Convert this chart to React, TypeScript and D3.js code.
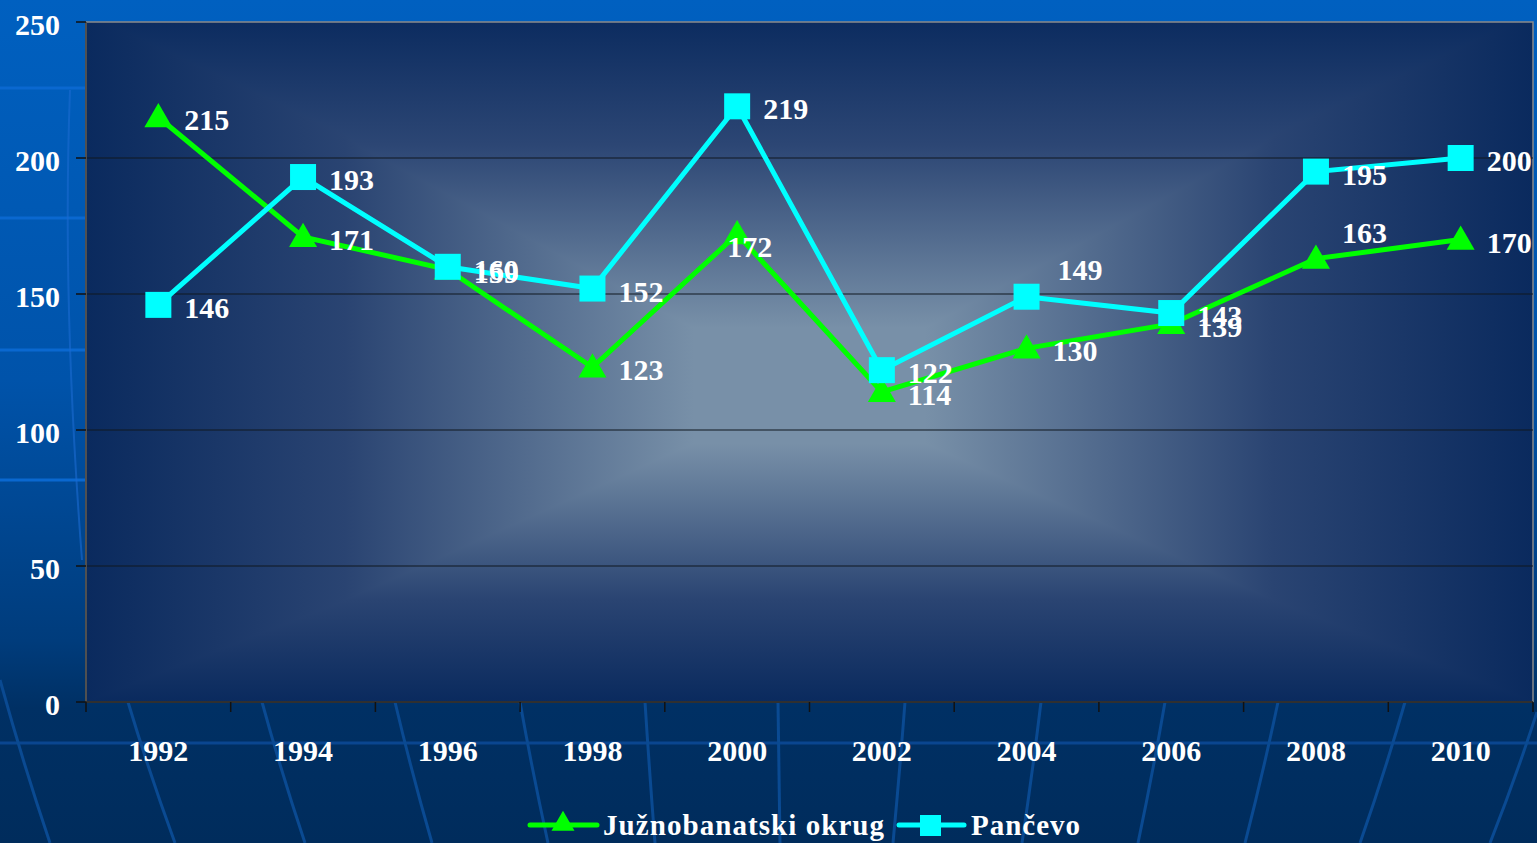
import React from 'react';
import * as d3 from 'd3';

const years = ['1992', '1994', '1996', '1998', '2000', '2002', '2004', '2006', '2008', '2010'];
const juzno = [215, 171, 159, 123, 172, 114, 130, 139, 163, 170];
const pancevo = [146, 193, 160, 152, 219, 122, 149, 143, 195, 200];
const yTicks = [0, 50, 100, 150, 200, 250];

const W = 1537;
const H = 843;
const M = { left: 86, right: 1533, top: 22, bottom: 702 };
const FONT = '"Liberation Serif", "Times New Roman", serif';

// label nudges where the original moved the value label away from the default spot
const nudgeJuzno: Record<number, [number, number]> = { 4: [-36, 10], 8: [0, -29] };
const nudgePancevo: Record<number, [number, number]> = { 6: [5, -30] };

// globe meridian strokes in the background (top x at plot bottom, bottom x at page bottom)
const meridians: [number, number, number][] = [
  [0, 680, 50], [128, 702, 175], [262, 702, 305], [395, 702, 432], [520, 702, 548],
  [645, 702, 655], [778, 702, 780], [905, 702, 893], [1041, 702, 1022],
  [1165, 702, 1138], [1278, 702, 1245], [1405, 702, 1360], [1537, 712, 1490],
];

const App: React.FC = () => {
  const x = d3.scaleBand().domain(years).range([M.left, M.right]);
  const y = d3.scaleLinear().domain([0, 250]).range([M.bottom, M.top]);
  const cx = (d: string) => (x(d) as number) + x.bandwidth() / 2;

  const line = d3.line<number>()
    .x((_, i) => cx(years[i]))
    .y(d => y(d));

  const tri = d3.symbol().type(d3.symbolTriangle).size(340)()!;
  const triLegend = d3.symbol().type(d3.symbolTriangle).size(230)()!;

  const ticksX = [...years.map(d => x(d) as number), M.right];

  const labels = (vals: number[], nudge: Record<number, [number, number]>) =>
    vals.map((v, i) => {
      const [dx, dy] = nudge[i] || [0, 0];
      return (
        <text key={i} x={cx(years[i]) + 26 + dx} y={y(v) + 13 + dy}
          fill="#fff" fontSize={30} fontWeight="bold" fontFamily={FONT}>{v}</text>
      );
    });

  return (
    <svg width={W} height={H} style={{ position: 'absolute', left: 0, top: 0 }}>
      <defs>
        <linearGradient id="bg" x1="0" y1="0" x2="0" y2="1">
          <stop offset="0" stopColor="#0060c0" />
          <stop offset="0.45" stopColor="#0053aa" />
          <stop offset="0.76" stopColor="#003c7c" />
          <stop offset="0.84" stopColor="#003064" />
          <stop offset="1" stopColor="#002c5c" />
        </linearGradient>
        <linearGradient id="gh" x1="0" y1="0" x2="1" y2="0">
          <stop offset="0" stopColor="#0a2a5e" />
          <stop offset="0.18" stopColor="#2a4472" />
          <stop offset="0.42" stopColor="#7890a8" />
          <stop offset="0.58" stopColor="#7890a8" />
          <stop offset="0.82" stopColor="#2a4472" />
          <stop offset="1" stopColor="#0a2a5e" />
        </linearGradient>
        <linearGradient id="gv" x1="0" y1="0" x2="0" y2="1">
          <stop offset="0" stopColor="#0c2c60" />
          <stop offset="0.18" stopColor="#2c4674" />
          <stop offset="0.45" stopColor="#7890a8" />
          <stop offset="0.62" stopColor="#7890a8" />
          <stop offset="0.85" stopColor="#2a4472" />
          <stop offset="1" stopColor="#0a2a5e" />
        </linearGradient>
      </defs>

      <rect width={W} height={H} fill="url(#bg)" />
      {[88, 218, 350, 480].map(v => (
        <line key={v} x1={0} x2={M.left} y1={v} y2={v} stroke="#0a68d0" strokeWidth={3} />
      ))}
      <line x1={0} x2={W} y1={743} y2={743} stroke="#0a4690" strokeWidth={3} />
      <path d="M70,90 Q62,300 82,560" fill="none" stroke="#1a6ad0" strokeWidth={2} opacity={0.6} />
      {meridians.map(([x0, y0, x1], i) => (
        <path key={i} d={`M${x0},${y0} Q${(x0 * 0.55 + x1 * 0.45)},${(y0 + H) / 2} ${x1},${H}`}
          fill="none" stroke="#0a4a92" strokeWidth={3} />
      ))}

      {/* plot area */}
      <g style={{ isolation: 'isolate' }}>
        <rect x={M.left} y={M.top} width={M.right - M.left} height={M.bottom - M.top} fill="url(#gh)" />
        <rect x={M.left} y={M.top} width={M.right - M.left} height={M.bottom - M.top} fill="url(#gv)"
          style={{ mixBlendMode: 'darken' }} />
      </g>
      <rect x={M.left} y={M.top} width={M.right - M.left} height={M.bottom - M.top}
        fill="none" stroke="#8a8a8a" strokeWidth={1.5} />

      {yTicks.filter(t => t > 0 && t < 250).map(t => (
        <line key={t} x1={M.left} x2={M.right} y1={y(t)} y2={y(t)} stroke="#111820" strokeWidth={1.2} />
      ))}

      {/* axes */}
      <line x1={M.left} x2={M.left} y1={M.top} y2={M.bottom} stroke="#505050" strokeWidth={2} />
      <line x1={M.left} x2={M.right} y1={M.bottom} y2={M.bottom} stroke="#303030" strokeWidth={2} />
      {yTicks.map(t => (
        <g key={t}>
          <line x1={M.left - 10} x2={M.left} y1={y(t)} y2={y(t)} stroke="#111" strokeWidth={1.5} />
          <text x={60} y={y(t) + 13} textAnchor="end" fill="#fff" fontSize={30}
            fontWeight="bold" fontFamily={FONT}>{t}</text>
        </g>
      ))}
      {ticksX.map((t, i) => (
        <line key={i} x1={t} x2={t} y1={M.bottom} y2={M.bottom + 10} stroke="#111" strokeWidth={1.5} />
      ))}
      {years.map(d => (
        <text key={d} x={cx(d)} y={761} textAnchor="middle" fill="#fff" fontSize={30}
          fontWeight="bold" fontFamily={FONT}>{d}</text>
      ))}

      {/* series */}
      <path d={line(juzno)!} fill="none" stroke="#00ff00" strokeWidth={5} />
      <path d={line(pancevo)!} fill="none" stroke="#00ffff" strokeWidth={5} />
      {juzno.map((v, i) => (
        <path key={i} d={tri} transform={`translate(${cx(years[i])},${y(v) + 2})`} fill="#00ff00" />
      ))}
      {pancevo.map((v, i) => (
        <rect key={i} x={cx(years[i]) - 13} y={y(v) - 13} width={26} height={26} fill="#00ffff" />
      ))}
      {labels(juzno, nudgeJuzno)}
      {labels(pancevo, nudgePancevo)}

      {/* legend */}
      <line x1={530} x2={597} y1={825} y2={825} stroke="#00ff00" strokeWidth={5} strokeLinecap="round" />
      <path d={triLegend} transform="translate(563,824)" fill="#00ff00" />
      <text x={603} y={835} fill="#fff" fontSize={29} fontWeight="bold" fontFamily={FONT}
        textLength={281} lengthAdjust="spacing">Južnobanatski okrug</text>
      <line x1={899} x2={964} y1={825} y2={825} stroke="#00ffff" strokeWidth={5} strokeLinecap="round" />
      <rect x={920} y={815} width={21} height={21} fill="#00ffff" />
      <text x={971} y={835} fill="#fff" fontSize={29} fontWeight="bold" fontFamily={FONT}
        textLength={109} lengthAdjust="spacing">Pančevo</text>
    </svg>
  );
};

export default App;
